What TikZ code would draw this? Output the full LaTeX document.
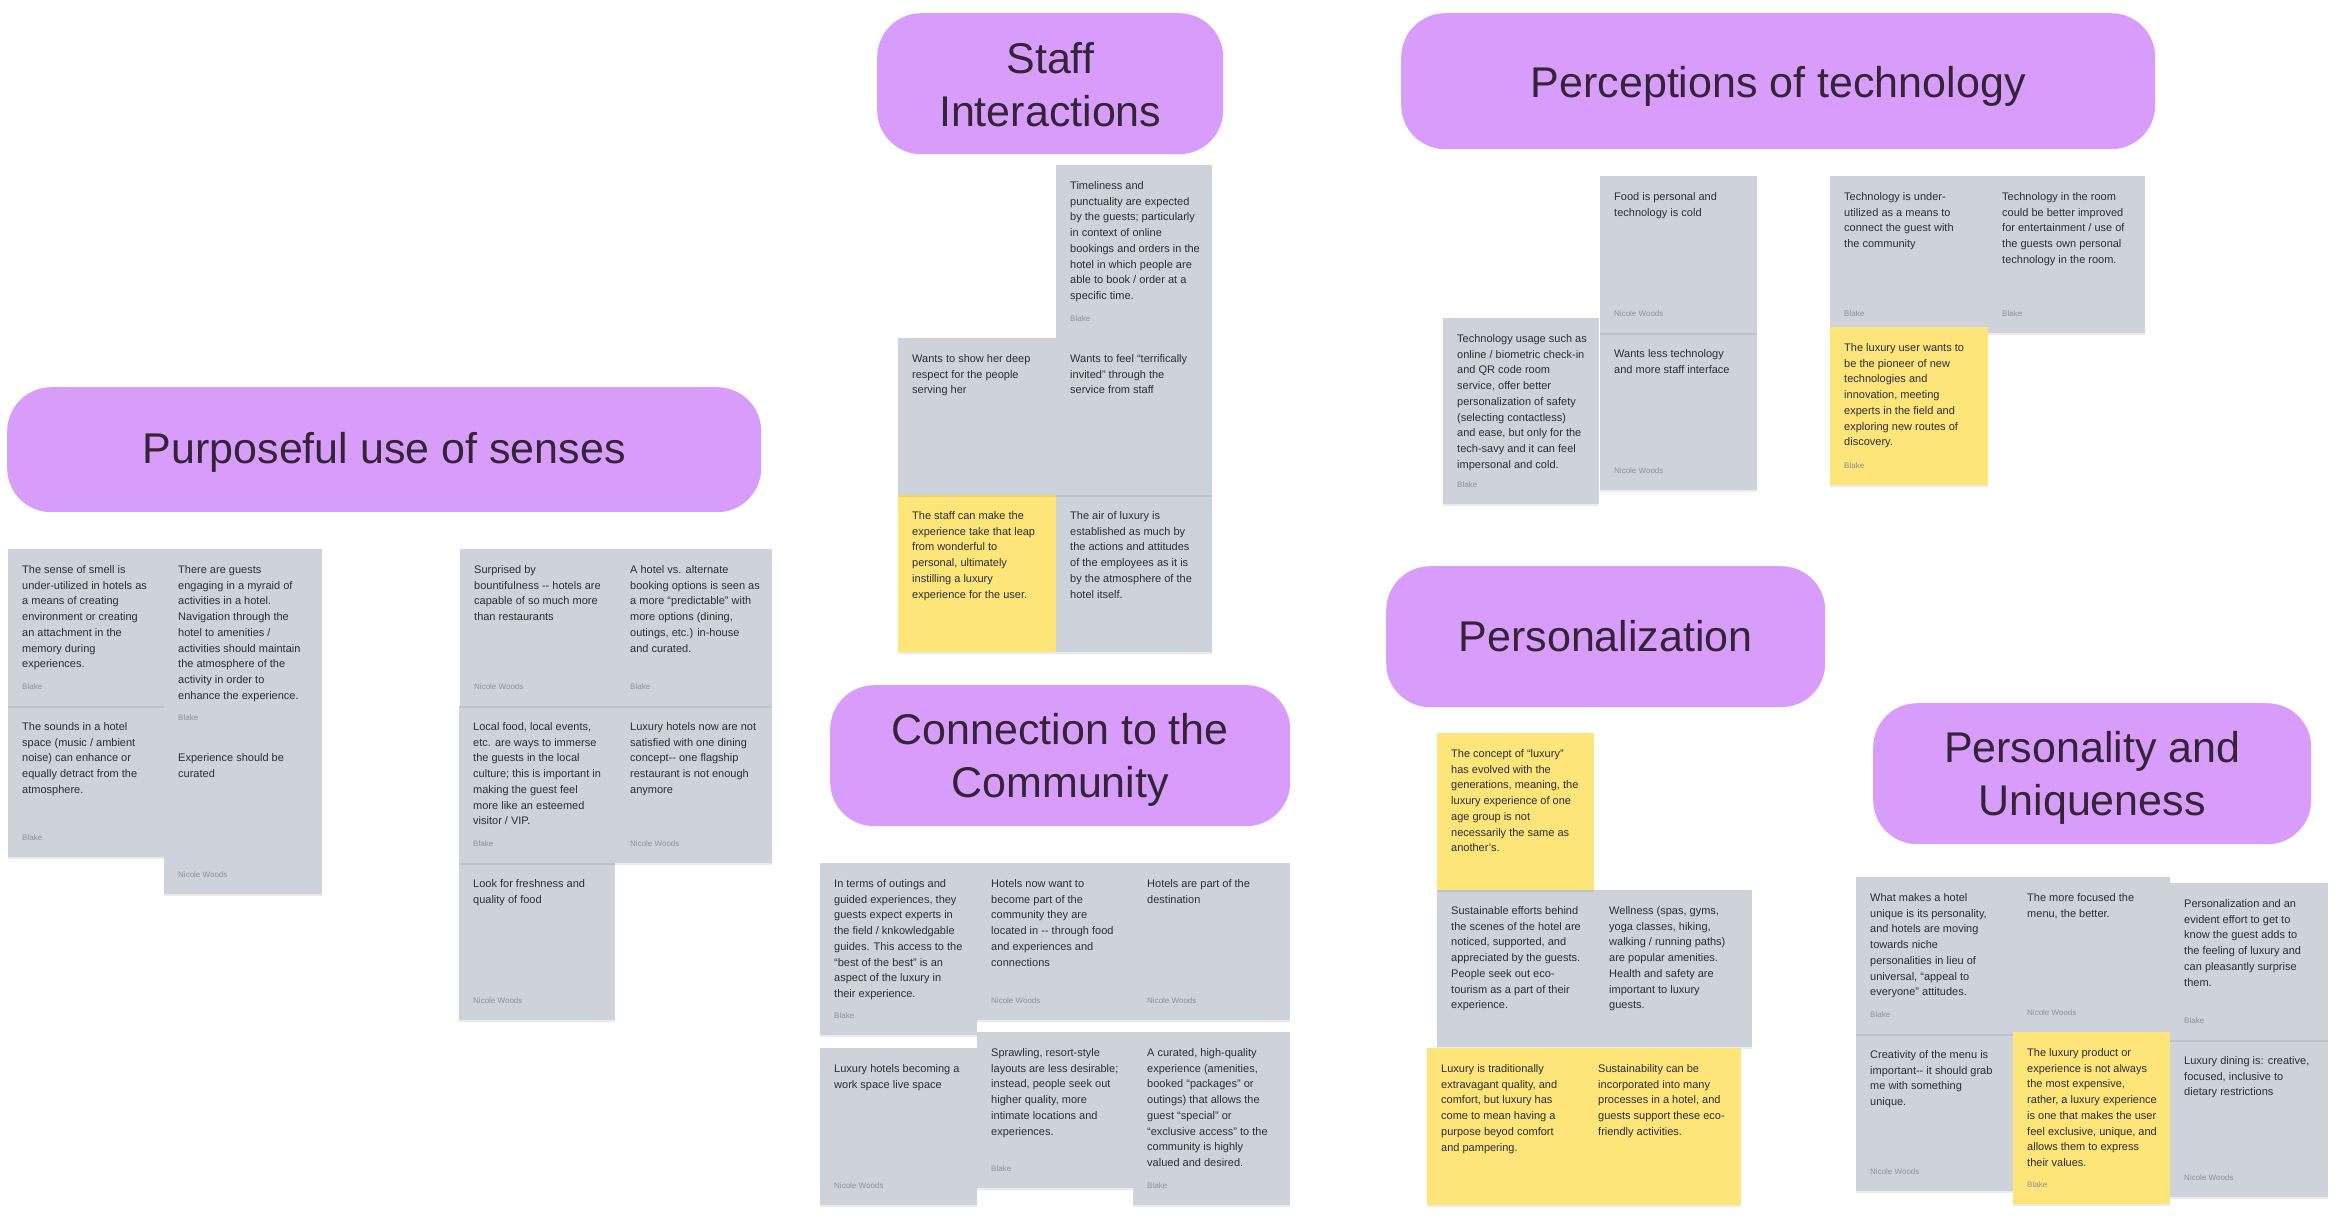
\documentclass[tikz,border=0pt]{standalone}
\usepackage{fontspec}
\setmainfont{Liberation Sans}
\usetikzlibrary{shadows}
\definecolor{notegray}{RGB}{206,211,219}
\definecolor{noteyellow}{RGB}{253,229,122}
\definecolor{hdrfill}{RGB}{216,156,250}
\definecolor{hdrtext}{RGB}{52,36,56}
\definecolor{notetext}{RGB}{45,45,50}
\definecolor{authtext}{RGB}{140,144,152}
\tikzset{
 stkbox/.style={anchor=north west, inner sep=0pt, draw=none,
   drop shadow={shadow xshift=0pt, shadow yshift=-2pt, opacity=0.08, fill=black}},
 stktext/.style={anchor=base west, inner sep=0pt, text=notetext, font=\fontsize{11}{15.7}\selectfont},
 stkauth/.style={anchor=base west, inner sep=0pt, text=authtext, font=\fontsize{8}{9}\selectfont},
 hdrbox/.style={anchor=north west, inner sep=0pt, fill=hdrfill, rounded corners=44pt},
 hdrtxt/.style={anchor=base, inner sep=0pt, text=hdrtext, font=\fontsize{43}{53}\selectfont},
}
% #1 name, #2 x, #3 y, #4 w, #5 h, #6 colour, #7 text, #8 author
\newcommand{\stk}[8]{%
  \node[stkbox, fill=#6, minimum width=#4pt, minimum height=#5pt] (#1) at (#2,#3) {};
  \node[stktext] (#1-t) at ([xshift=14pt,yshift=-24.5pt]#1.north west) {\parbox[t]{220pt}{\raggedright #7}};
  \if\relax\detokenize{#8}\relax\else
  \node[stkauth] (#1-a) at ([xshift=14pt,yshift=17pt]#1.south west) {#8};
  \fi
}
% #1 name, #2 x, #3 y, #4 w, #5 h, #6 baseline offset, #7 text
\newcommand{\hdr}[7]{%
  \node[hdrbox, minimum width=#4pt, minimum height=#5pt] (#1) at (#2,#3) {};
  \node[hdrtxt] (#1-t) at ([yshift=-#6pt]#1.north) {\parbox[t]{700pt}{\centering #7}};
}
\begin{document}
\begin{tikzpicture}[x=1pt,y=-1pt]
\fill[white] (0,0) rectangle (2343,1218);
\useasboundingbox (0,0) rectangle (2343,1218);

% ---------------- headers
\hdr{hstaff}{877}{13}{346}{141}{60}{Staff\\Interactions}
\hdr{htech}{1401}{13}{754}{136}{84}{Perceptions of technology}
\hdr{hsenses}{7}{387}{754}{125}{76}{Purposeful use of senses}
\hdr{hcomm}{830}{685}{460}{141}{59}{Connection to the\\Community}
\hdr{hpers}{1386}{566}{439}{141}{85}{Personalization}
\hdr{hunique}{1873}{703}{438}{141}{59}{Personality and\\Uniqueness}

% ---------------- purposeful use of senses (left)
\stk{s2}{8}{706}{156}{151}{notegray}{The sounds in a hotel\\space (music / ambient\\noise) can enhance or\\equally detract from the\\atmosphere.}{Blake}
\stk{s1}{8}{549}{156}{157}{notegray}{The sense of smell is\\under-utilized in hotels as\\a means of creating\\environment or creating\\an attachment in the\\memory during\\experiences.}{Blake}
\stk{s3}{164}{549}{158}{188}{notegray}{There are guests\\engaging in a myraid of\\activities in a hotel.\\Navigation through the\\hotel to amenities /\\activities should maintain\\the atmosphere of the\\activity in order to\\enhance the experience.}{Blake}
\stk{s4}{164}{737}{158}{157}{notegray}{Experience should be\\curated}{Nicole Woods}

% ---------------- purposeful use of senses (right)
\stk{m5}{459}{863}{156}{157}{notegray}{Look for freshness and\\quality of food}{Nicole Woods}
\stk{m3}{459}{706}{157}{157}{notegray}{Local food, local events,\\etc. are ways to immerse\\the guests in the local\\culture; this is important in\\making the guest feel\\more like an esteemed\\visitor / VIP.}{Blake}
\stk{m4}{616}{706}{156}{157}{notegray}{Luxury hotels now are not\\satisfied with one dining\\concept-{}- one flagship\\restaurant is not enough\\anymore}{Nicole Woods}
\stk{m1}{460}{549}{156}{157}{notegray}{Surprised by\\bountifulness -{}- hotels are\\capable of so much more\\than restaurants}{Nicole Woods}
\stk{m2}{616}{549}{156}{157}{notegray}{A hotel vs. alternate\\booking options is seen as\\a more “predictable” with\\more options (dining,\\outings, etc.) in-house\\and curated.}{Blake}

% ---------------- staff interactions
\stk{st4}{898}{495}{158}{157}{noteyellow}{The staff can make the\\experience take that leap\\from wonderful to\\personal, ultimately\\instilling a luxury\\experience for the user.}{}
\stk{st5}{1056}{495}{156}{157}{notegray}{The air of luxury is\\established as much by\\the actions and attitudes\\of the employees as it is\\by the atmosphere of the\\hotel itself.}{}
\stk{st1}{1056}{165}{156}{173}{notegray}{Timeliness and\\punctuality are expected\\by the guests; particularly\\in context of online\\bookings and orders in the\\hotel in which people are\\able to book / order at a\\specific time.}{Blake}
\stk{st2}{898}{338}{158}{157}{notegray}{Wants to show her deep\\respect for the people\\serving her}{}
\stk{st3}{1056}{338}{156}{157}{notegray}{Wants to feel “terrifically\\invited” through the\\service from staff}{}

% ---------------- connection to the community
\stk{c1}{820}{863}{157}{172}{notegray}{In terms of outings and\\guided experiences, they\\guests expect experts in\\the field / knkowledgable\\guides. This access to the\\“best of the best” is an\\aspect of the luxury in\\their experience.}{Blake}
\stk{c2}{977}{863}{156}{157}{notegray}{Hotels now want to\\become part of the\\community they are\\located in -{}- through food\\and experiences and\\connections}{Nicole Woods}
\stk{c3}{1133}{863}{157}{157}{notegray}{Hotels are part of the\\destination}{Nicole Woods}
\stk{c4}{820}{1048}{157}{157}{notegray}{Luxury hotels becoming a\\work space live space}{Nicole Woods}
\stk{c5}{977}{1032}{156}{156}{notegray}{Sprawling, resort-style\\layouts are less desirable;\\instead, people seek out\\higher quality, more\\intimate locations and\\experiences.}{Blake}
\stk{c6}{1133}{1032}{157}{173}{notegray}{A curated, high-quality\\experience (amenities,\\booked “packages” or\\outings) that allows the\\guest “special” or\\“exclusive access” to the\\community is highly\\valued and desired.}{Blake}

% ---------------- perceptions of technology
\stk{t2}{1600}{333}{157}{157}{notegray}{Wants less technology\\and more staff interface}{Nicole Woods}
\stk{t1}{1600}{176}{157}{157}{notegray}{Food is personal and\\technology is cold}{Nicole Woods}
\stk{t3}{1443}{318}{156}{186}{notegray}{Technology usage such as\\online / biometric check-in\\and QR code room\\service, offer better\\personalization of safety\\(selecting contactless)\\and ease, but only for the\\tech-savy and it can feel\\impersonal and cold.}{Blake}
\stk{t4}{1830}{176}{158}{157}{notegray}{Technology is under-\\utilized as a means to\\connect the guest with\\the community}{Blake}
\stk{t5}{1988}{176}{157}{157}{notegray}{Technology in the room\\could be better improved\\for entertainment / use of\\the guests own personal\\technology in the room.}{Blake}
\stk{t6}{1830}{327}{158}{158}{noteyellow}{The luxury user wants to\\be the pioneer of new\\technologies and\\innovation, meeting\\experts in the field and\\exploring new routes of\\discovery.}{Blake}

% ---------------- personalization
\stk{p2}{1437}{890}{158}{157}{notegray}{Sustainable efforts behind\\the scenes of the hotel are\\noticed, supported, and\\appreciated by the guests.\\People seek out eco-\\tourism as a part of their\\experience.}{}
\stk{p3}{1595}{890}{157}{157}{notegray}{Wellness (spas, gyms,\\yoga classes, hiking,\\walking / running paths)\\are popular amenities.\\Health and safety are\\important to luxury\\guests.}{}
\stk{p1}{1437}{733}{157}{157}{noteyellow}{The concept of “luxury”\\has evolved with the\\generations, meaning, the\\luxury experience of one\\age group is not\\necessarily the same as\\another’s.}{}
\stk{p4}{1427}{1048}{157}{157}{noteyellow}{Luxury is traditionally\\extravagant quality, and\\comfort, but luxury has\\come to mean having a\\purpose beyod comfort\\and pampering.}{}
\stk{p5}{1584}{1048}{157}{157}{noteyellow}{Sustainability can be\\incorporated into many\\processes in a hotel, and\\guests support these eco-\\friendly activities.}{}

% ---------------- personality and uniqueness
\stk{q4}{1856}{1034}{157}{157}{notegray}{Creativity of the menu is\\important-{}- it should grab\\me with something\\unique.}{Nicole Woods}
\stk{q1}{1856}{877}{157}{157}{notegray}{What makes a hotel\\unique is its personality,\\and hotels are moving\\towards niche\\personalities in lieu of\\universal, “appeal to\\everyone” attitudes.}{Blake}
\stk{q2}{2013}{877}{157}{155}{notegray}{The more focused the\\menu, the better.}{Nicole Woods}
\stk{q6}{2170}{1040}{158}{157}{notegray}{Luxury dining is: creative,\\focused, inclusive to\\dietary restrictions}{Nicole Woods}
\stk{q3}{2170}{883}{158}{157}{notegray}{Personalization and an\\evident effort to get to\\know the guest adds to\\the feeling of luxury and\\can pleasantly surprise\\them.}{Blake}
\stk{q5}{2013}{1032}{157}{172}{noteyellow}{The luxury product or\\experience is not always\\the most expensive,\\rather, a luxury experience\\is one that makes the user\\feel exclusive, unique, and\\allows them to express\\their values.}{Blake}
\end{tikzpicture}
\end{document}
